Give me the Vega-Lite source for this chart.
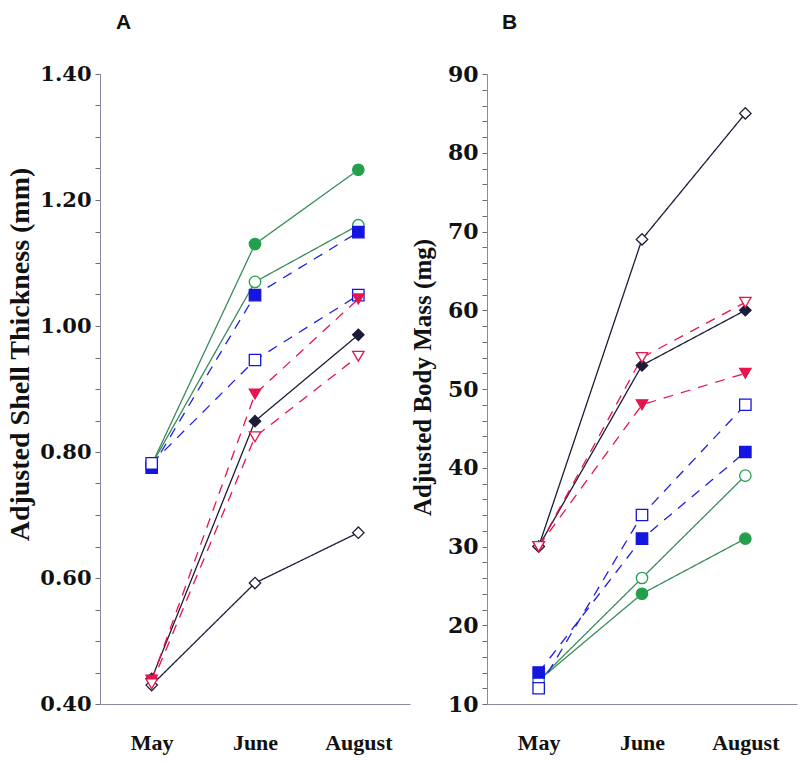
{
  "$schema": "https://vega.github.io/schema/vega-lite/v6.json",
  "background": "white",
  "padding": {"left": 6, "top": 12, "right": 5, "bottom": 5},
  "spacing": 0,
  "datasets": {
    "shell": [
      {"series": "SS + C", "month": "May", "value": 0.78},
      {"series": "SS + C", "month": "June", "value": 1.13},
      {"series": "SS + C", "month": "August", "value": 1.248},
      {"series": "SS - C", "month": "May", "value": 0.78},
      {"series": "SS - C", "month": "June", "value": 1.07},
      {"series": "SS - C", "month": "August", "value": 1.16},
      {"series": "SN + C", "month": "May", "value": 0.775},
      {"series": "SN + C", "month": "June", "value": 1.049},
      {"series": "SN + C", "month": "August", "value": 1.149},
      {"series": "SN - C", "month": "May", "value": 0.782},
      {"series": "SN - C", "month": "June", "value": 0.946},
      {"series": "SN - C", "month": "August", "value": 1.049},
      {"series": "NN + C", "month": "May", "value": 0.44},
      {"series": "NN + C", "month": "June", "value": 0.849},
      {"series": "NN + C", "month": "August", "value": 0.986},
      {"series": "NN - C", "month": "May", "value": 0.43},
      {"series": "NN - C", "month": "June", "value": 0.592},
      {"series": "NN - C", "month": "August", "value": 0.672},
      {"series": "NS + C", "month": "May", "value": 0.438},
      {"series": "NS + C", "month": "June", "value": 0.892},
      {"series": "NS + C", "month": "August", "value": 1.043},
      {"series": "NS - C", "month": "May", "value": 0.432},
      {"series": "NS - C", "month": "June", "value": 0.824},
      {"series": "NS - C", "month": "August", "value": 0.952}
    ],
    "mass": [
      {"series": "SS + C", "month": "May", "value": 13},
      {"series": "SS + C", "month": "June", "value": 24},
      {"series": "SS + C", "month": "August", "value": 31},
      {"series": "SS - C", "month": "May", "value": 13},
      {"series": "SS - C", "month": "June", "value": 26},
      {"series": "SS - C", "month": "August", "value": 39},
      {"series": "SN + C", "month": "May", "value": 14},
      {"series": "SN + C", "month": "June", "value": 31},
      {"series": "SN + C", "month": "August", "value": 42},
      {"series": "SN - C", "month": "May", "value": 12},
      {"series": "SN - C", "month": "June", "value": 34},
      {"series": "SN - C", "month": "August", "value": 48},
      {"series": "NN + C", "month": "May", "value": 30},
      {"series": "NN + C", "month": "June", "value": 53},
      {"series": "NN + C", "month": "August", "value": 60},
      {"series": "NN - C", "month": "May", "value": 30},
      {"series": "NN - C", "month": "June", "value": 69},
      {"series": "NN - C", "month": "August", "value": 85},
      {"series": "NS + C", "month": "May", "value": 30},
      {"series": "NS + C", "month": "June", "value": 48},
      {"series": "NS + C", "month": "August", "value": 52},
      {"series": "NS - C", "month": "May", "value": 30},
      {"series": "NS - C", "month": "June", "value": 54},
      {"series": "NS - C", "month": "August", "value": 61}
    ]
  },
  "config": {
    "view": {"stroke": null},
    "axis": {"grid": false, "domainColor": "#8a8aa0", "tickColor": "#6a6a80", "labelColor": "#111", "titleColor": "#111"},
    "legend": {"orient": "none", "legendX": 60, "legendY": -45, "columns": 2, "strokeColor": "#111133", "fillColor": "#ffffff", "padding": 12, "rowPadding": 11, "columnPadding": 40, "labelOffset": 22, "labelFont": "Liberation Serif", "labelFontSize": 16, "labelFontWeight": "bold", "symbolSize": 130, "symbolStrokeWidth": 1.3}
  },
  "hconcat": [
    {
      "width": 310,
      "height": 630,
      "data": {"name": "shell"},
      "title": {"text": "A", "anchor": "start", "frame": "group", "dx": 16, "offset": 30, "font": "Liberation Sans", "fontSize": 21, "fontWeight": "bold", "color": "#111"},
      "encoding": {
        "x": {"field": "month", "type": "ordinal", "sort": ["May", "June", "August"], "scale": {"type": "point", "padding": 0.5},
          "axis": {"title": null, "labelAngle": 0, "ticks": false, "labelPadding": 28, "labelFont": "Liberation Serif", "labelFontSize": 22, "labelFontWeight": "bold"}},
        "y": {"field": "value", "type": "quantitative", "scale": {"domain": [0.4, 1.4], "nice": false, "zero": false},
          "axis": {"title": "Adjusted Shell Thickness (mm)", "values": [0.4, 0.45, 0.5, 0.55, 0.6, 0.65, 0.7, 0.75, 0.8, 0.85, 0.9, 0.95, 1.0, 1.05, 1.1, 1.15, 1.2, 1.25, 1.3, 1.35, 1.4],
            "format": ".2f",
            "labelExpr": "round(datum.value*100) % 20 == 0 ? datum.label : ''",
            "labelOverlap": false, "labelFlush": false, "tickSize": 5, "labelPadding": 4,
            "labelFont": "DejaVu Serif", "labelFontSize": 21, "labelFontWeight": "bold",
            "titleFont": "Liberation Serif", "titleFontSize": 28, "titleFontWeight": "bold", "titlePadding": 5, "titleY": 280}}
      },
      "layer": [
        {
          "mark": {"type": "line", "strokeWidth": 1.3},
          "encoding": {
            "stroke": {"field": "series", "type": "nominal", "legend": null,
              "scale": {"domain": ["SS + C", "NN + C", "SS - C", "NN - C", "SN + C", "NS + C", "SN - C", "NS - C"],
                "range": ["#3a8c5c", "#1c1c38", "#3a8c5c", "#1c1c38", "#2020dd", "#e5154d", "#2020dd", "#e5154d"]}},
            "strokeDash": {"field": "series", "type": "nominal", "legend": null,
              "scale": {"domain": ["SS + C", "NN + C", "SS - C", "NN - C", "SN + C", "NS + C", "SN - C", "NS - C"],
                "range": [[1, 0], [1, 0], [1, 0], [1, 0], [10, 8], [10, 8], [10, 8], [10, 8]]}}
          }
        },
        {
          "mark": {"type": "point", "filled": false, "opacity": 1, "size": 130, "strokeWidth": 1.3},
          "encoding": {
            "color": {"field": "series", "type": "nominal",
              "scale": {"domain": ["SS + C", "NN + C", "SS - C", "NN - C", "SN + C", "NS + C", "SN - C", "NS - C"],
                "range": ["#23a04c", "#1c1c38", "#23a04c", "#1c1c38", "#1515e0", "#e5154d", "#1515e0", "#e5154d"]},
              "legend": {"orient": "none", "legendX": 60, "legendY": -45, "columns": 2, "title": null}},
            "shape": {"field": "series", "type": "nominal",
              "scale": {"domain": ["SS + C", "NN + C", "SS - C", "NN - C", "SN + C", "NS + C", "SN - C", "NS - C"],
                "range": ["circle", "diamond", "circle", "diamond", "square", "triangle-down", "square", "triangle-down"]},
              "legend": {"orient": "none", "legendX": 60, "legendY": -45, "columns": 2, "title": null}},
            "fill": {"field": "series", "type": "nominal",
              "scale": {"domain": ["SS + C", "NN + C", "SS - C", "NN - C", "SN + C", "NS + C", "SN - C", "NS - C"],
                "range": ["#23a04c", "#1c1c38", "#ffffff", "#ffffff", "#1515e0", "#e5154d", "#ffffff", "#ffffff"]},
              "legend": {"orient": "none", "legendX": 60, "legendY": -45, "columns": 2, "title": null}}
          }
        }
      ]
    },
    {
      "width": 310,
      "height": 630,
      "data": {"name": "mass"},
      "title": {"text": "B", "anchor": "start", "frame": "group", "dx": 15, "offset": 30, "font": "Liberation Sans", "fontSize": 21, "fontWeight": "bold", "color": "#111"},
      "encoding": {
        "x": {"field": "month", "type": "ordinal", "sort": ["May", "June", "August"], "scale": {"type": "point", "padding": 0.5},
          "axis": {"title": null, "labelAngle": 0, "ticks": false, "labelPadding": 28, "labelFont": "Liberation Serif", "labelFontSize": 22, "labelFontWeight": "bold"}},
        "y": {"field": "value", "type": "quantitative", "scale": {"domain": [10, 90], "nice": false, "zero": false},
          "axis": {"title": "Adjusted Body Mass (mg)", "values": [10, 12, 14, 16, 18, 20, 22, 24, 26, 28, 30, 32, 34, 36, 38, 40, 42, 44, 46, 48, 50, 52, 54, 56, 58, 60, 62, 64, 66, 68, 70, 72, 74, 76, 78, 80, 82, 84, 86, 88, 90],
            "format": "d",
            "labelExpr": "datum.value % 10 == 0 ? datum.label : ''",
            "labelOverlap": false, "labelFlush": false, "tickSize": 5, "labelPadding": 4,
            "labelFont": "DejaVu Serif", "labelFontSize": 22, "labelFontWeight": "bold",
            "titleFont": "Liberation Serif", "titleFontSize": 25, "titleFontWeight": "bold", "titlePadding": 12, "titleY": 303}}
      },
      "layer": [
        {
          "mark": {"type": "line", "strokeWidth": 1.3},
          "encoding": {
            "stroke": {"field": "series", "type": "nominal", "legend": null,
              "scale": {"domain": ["SS + C", "NN + C", "SS - C", "NN - C", "SN + C", "NS + C", "SN - C", "NS - C"],
                "range": ["#3a8c5c", "#1c1c38", "#3a8c5c", "#1c1c38", "#2020dd", "#e5154d", "#2020dd", "#e5154d"]}},
            "strokeDash": {"field": "series", "type": "nominal", "legend": null,
              "scale": {"domain": ["SS + C", "NN + C", "SS - C", "NN - C", "SN + C", "NS + C", "SN - C", "NS - C"],
                "range": [[1, 0], [1, 0], [1, 0], [1, 0], [10, 8], [10, 8], [10, 8], [10, 8]]}}
          }
        },
        {
          "mark": {"type": "point", "filled": false, "opacity": 1, "size": 130, "strokeWidth": 1.3},
          "encoding": {
            "color": {"field": "series", "type": "nominal", "legend": null,
              "scale": {"domain": ["SS + C", "NN + C", "SS - C", "NN - C", "SN + C", "NS + C", "SN - C", "NS - C"],
                "range": ["#23a04c", "#1c1c38", "#23a04c", "#1c1c38", "#1515e0", "#e5154d", "#1515e0", "#e5154d"]}},
            "shape": {"field": "series", "type": "nominal", "legend": null,
              "scale": {"domain": ["SS + C", "NN + C", "SS - C", "NN - C", "SN + C", "NS + C", "SN - C", "NS - C"],
                "range": ["circle", "diamond", "circle", "diamond", "square", "triangle-down", "square", "triangle-down"]}},
            "fill": {"field": "series", "type": "nominal", "legend": null,
              "scale": {"domain": ["SS + C", "NN + C", "SS - C", "NN - C", "SN + C", "NS + C", "SN - C", "NS - C"],
                "range": ["#23a04c", "#1c1c38", "#ffffff", "#ffffff", "#1515e0", "#e5154d", "#ffffff", "#ffffff"]}}
          }
        }
      ]
    }
  ]
}
